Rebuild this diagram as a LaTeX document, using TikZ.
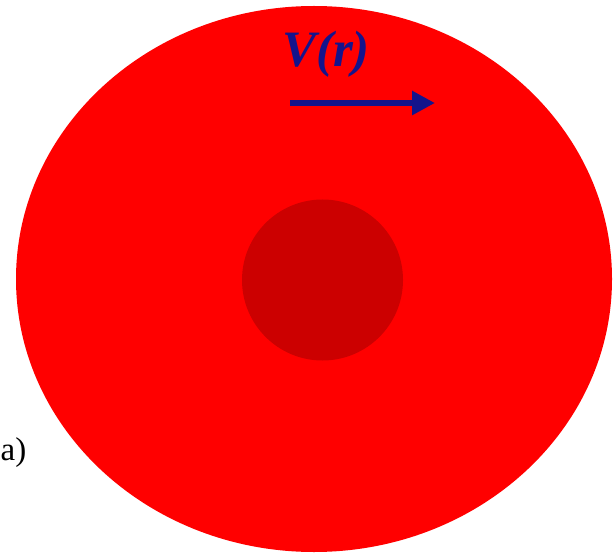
\documentclass[tikz,border=0pt]{standalone}
\usepackage{fontspec}
\setmainfont{Liberation Serif}
\usetikzlibrary{arrows.meta}
\definecolor{outerred}{RGB}{255,0,0}
\definecolor{innerred}{RGB}{204,0,0}
\definecolor{vblue}{RGB}{20,20,140}
\begin{document}
\begin{tikzpicture}[x=1pt,y=-1pt,
  vlabel/.style={text=vblue,font=\fontsize{51}{51}\selectfont\bfseries\itshape,inner sep=0pt},
  vflow/.style={draw=vblue,line width=6.5pt,-{Triangle[length=23pt,width=23pt]}},
  panel/.style={font=\fontsize{33}{33}\selectfont,inner sep=0pt}]
\useasboundingbox (0,0) rectangle (615,553);
\fill[outerred] (314,279) ellipse [x radius=298, y radius=273];
\fill[innerred] (322.5,280) circle [radius=80.5];
\node[vlabel,anchor=base] (vr) at (326,67) {V(r)};
\coordinate (a1) at (290,103);
\coordinate (a2) at (435,103);
\draw[vflow] (a1) -- (a2);
\node[panel,anchor=base west] (lab) at (0.5,460) {a)};
\end{tikzpicture}
\end{document}
